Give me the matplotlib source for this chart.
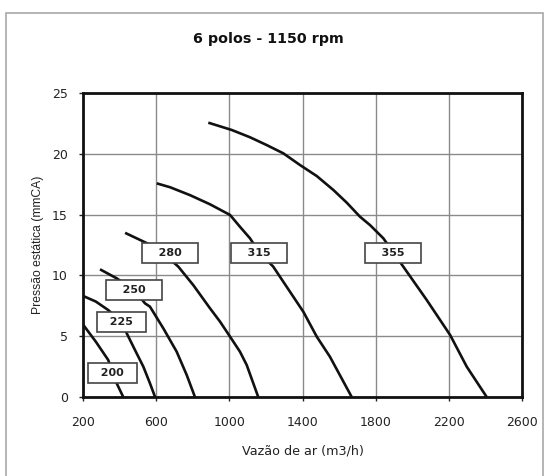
import matplotlib
matplotlib.use("Agg")
import matplotlib.pyplot as plt
from matplotlib.patches import Rectangle

plt.rcParams['font.family'] = ['DejaVu Sans']

title = "6 polos - 1150 rpm"
xlabel = "Vazão de ar (m3/h)"
ylabel = "Pressão estática (mmCA)"
xticks = [200, 600, 1000, 1400, 1800, 2200, 2600]
yticks = [0, 5, 10, 15, 20, 25]

# curves: (flow m3/h, static pressure mmCA)
x200 = [202, 270, 338, 361, 384, 420]
y200 = [5.92, 4.55, 3.04, 2.0, 1.13, 0]
x225 = [202, 270, 338, 411, 439, 484, 530, 566, 594]
y225 = [8.3, 7.85, 7.15, 6.17, 5.24, 3.87, 2.49, 1.13, 0]
x250 = [293, 384, 480, 539, 566, 639, 712, 767, 812]
y250 = [10.5, 9.76, 8.8, 7.7, 7.43, 5.65, 3.73, 1.81, 0]
x280 = [430, 548, 640, 721, 803, 894, 949, 1004, 1058, 1095, 1158]
y280 = [13.5, 12.66, 11.8, 10.72, 9.2, 7.3, 6.2, 4.96, 3.73, 2.63, 0]
x315 = [603, 676, 785, 894, 1004, 1058, 1113, 1163, 1240, 1405, 1478, 1550, 1669]
y315 = [17.57, 17.25, 16.6, 15.85, 14.97, 14.0, 13.05, 11.9, 10.72, 7.0, 4.96, 3.31, 0]
x355 = [885, 1013, 1113, 1204, 1295, 1386, 1478, 1569, 1642, 1714, 1769, 1842,
        1951, 2079, 2207, 2298, 2407]
y355 = [22.56, 21.96, 21.36, 20.72, 20.04, 19.08, 18.17, 17.02, 15.98, 14.83, 14.14, 13.05,
        10.72, 7.98, 5.1, 2.49, 0]

labels = ["200", "225", "250", "280", "315", "355"]
label_x = [361, 411, 480, 675, 1163, 1895]
label_y = [2.0, 6.17, 8.8, 11.85, 11.88, 11.85]
label_spaces = [2, 2, 3, 3, 3, 3]

curves = [(x200, y200), (x225, y225), (x250, y250),
          (x280, y280), (x315, y315), (x355, y355)]

fig = plt.figure(figsize=(5.49, 4.76), dpi=100)
fig.patch.set_facecolor('white')
ax = fig.add_axes([83/549, 79/476, 439/549, 304/476])

fig.patches.append(Rectangle((6/549, -0.05), 537/549, 1.05 - 13/476,
                             transform=fig.transFigure, fill=False,
                             edgecolor='#a8a8a8', linewidth=1.2))

for (xs, ys) in curves:
    ax.plot(xs, ys, color='#111111', linewidth=1.9, solid_joinstyle='round',
            solid_capstyle='butt', zorder=3)

for lab, lx, ly, ns in zip(labels, label_x, label_y, label_spaces):
    sp = " " * ns
    ax.text(lx, ly, sp + lab + sp, ha='center', va='center', fontsize=8,
            fontweight='bold', color='#222222', zorder=5,
            bbox=dict(boxstyle='square,pad=0.45', facecolor='white',
                      edgecolor='#444444', linewidth=1.2))

ax.set_xlim(200, 2600)
ax.set_ylim(0, 25)
ax.set_xticks(xticks)
ax.set_yticks(yticks)
ax.grid(True, color='#8a8a8a', linewidth=1.0, zorder=0)
ax.set_axisbelow(True)
for s in ax.spines.values():
    s.set_linewidth(2.0)
    s.set_color('#111111')
ax.tick_params(axis='both', length=3, width=1, labelsize=9, colors='#222222')
ax.tick_params(axis='x', pad=11)
ax.tick_params(axis='y', pad=8)

ax.set_xlabel(xlabel, fontsize=9.2, color='#222222', labelpad=11)
ax.set_ylabel(ylabel, fontsize=8.7, color='#222222', labelpad=6,
              family=['Liberation Sans', 'DejaVu Sans'])
fig.text(268/549, 1 - 39/476, title, ha='center', va='center',
         fontsize=10.3, fontweight='bold', color='#111111')

fig.savefig("out.png", dpi=100)
